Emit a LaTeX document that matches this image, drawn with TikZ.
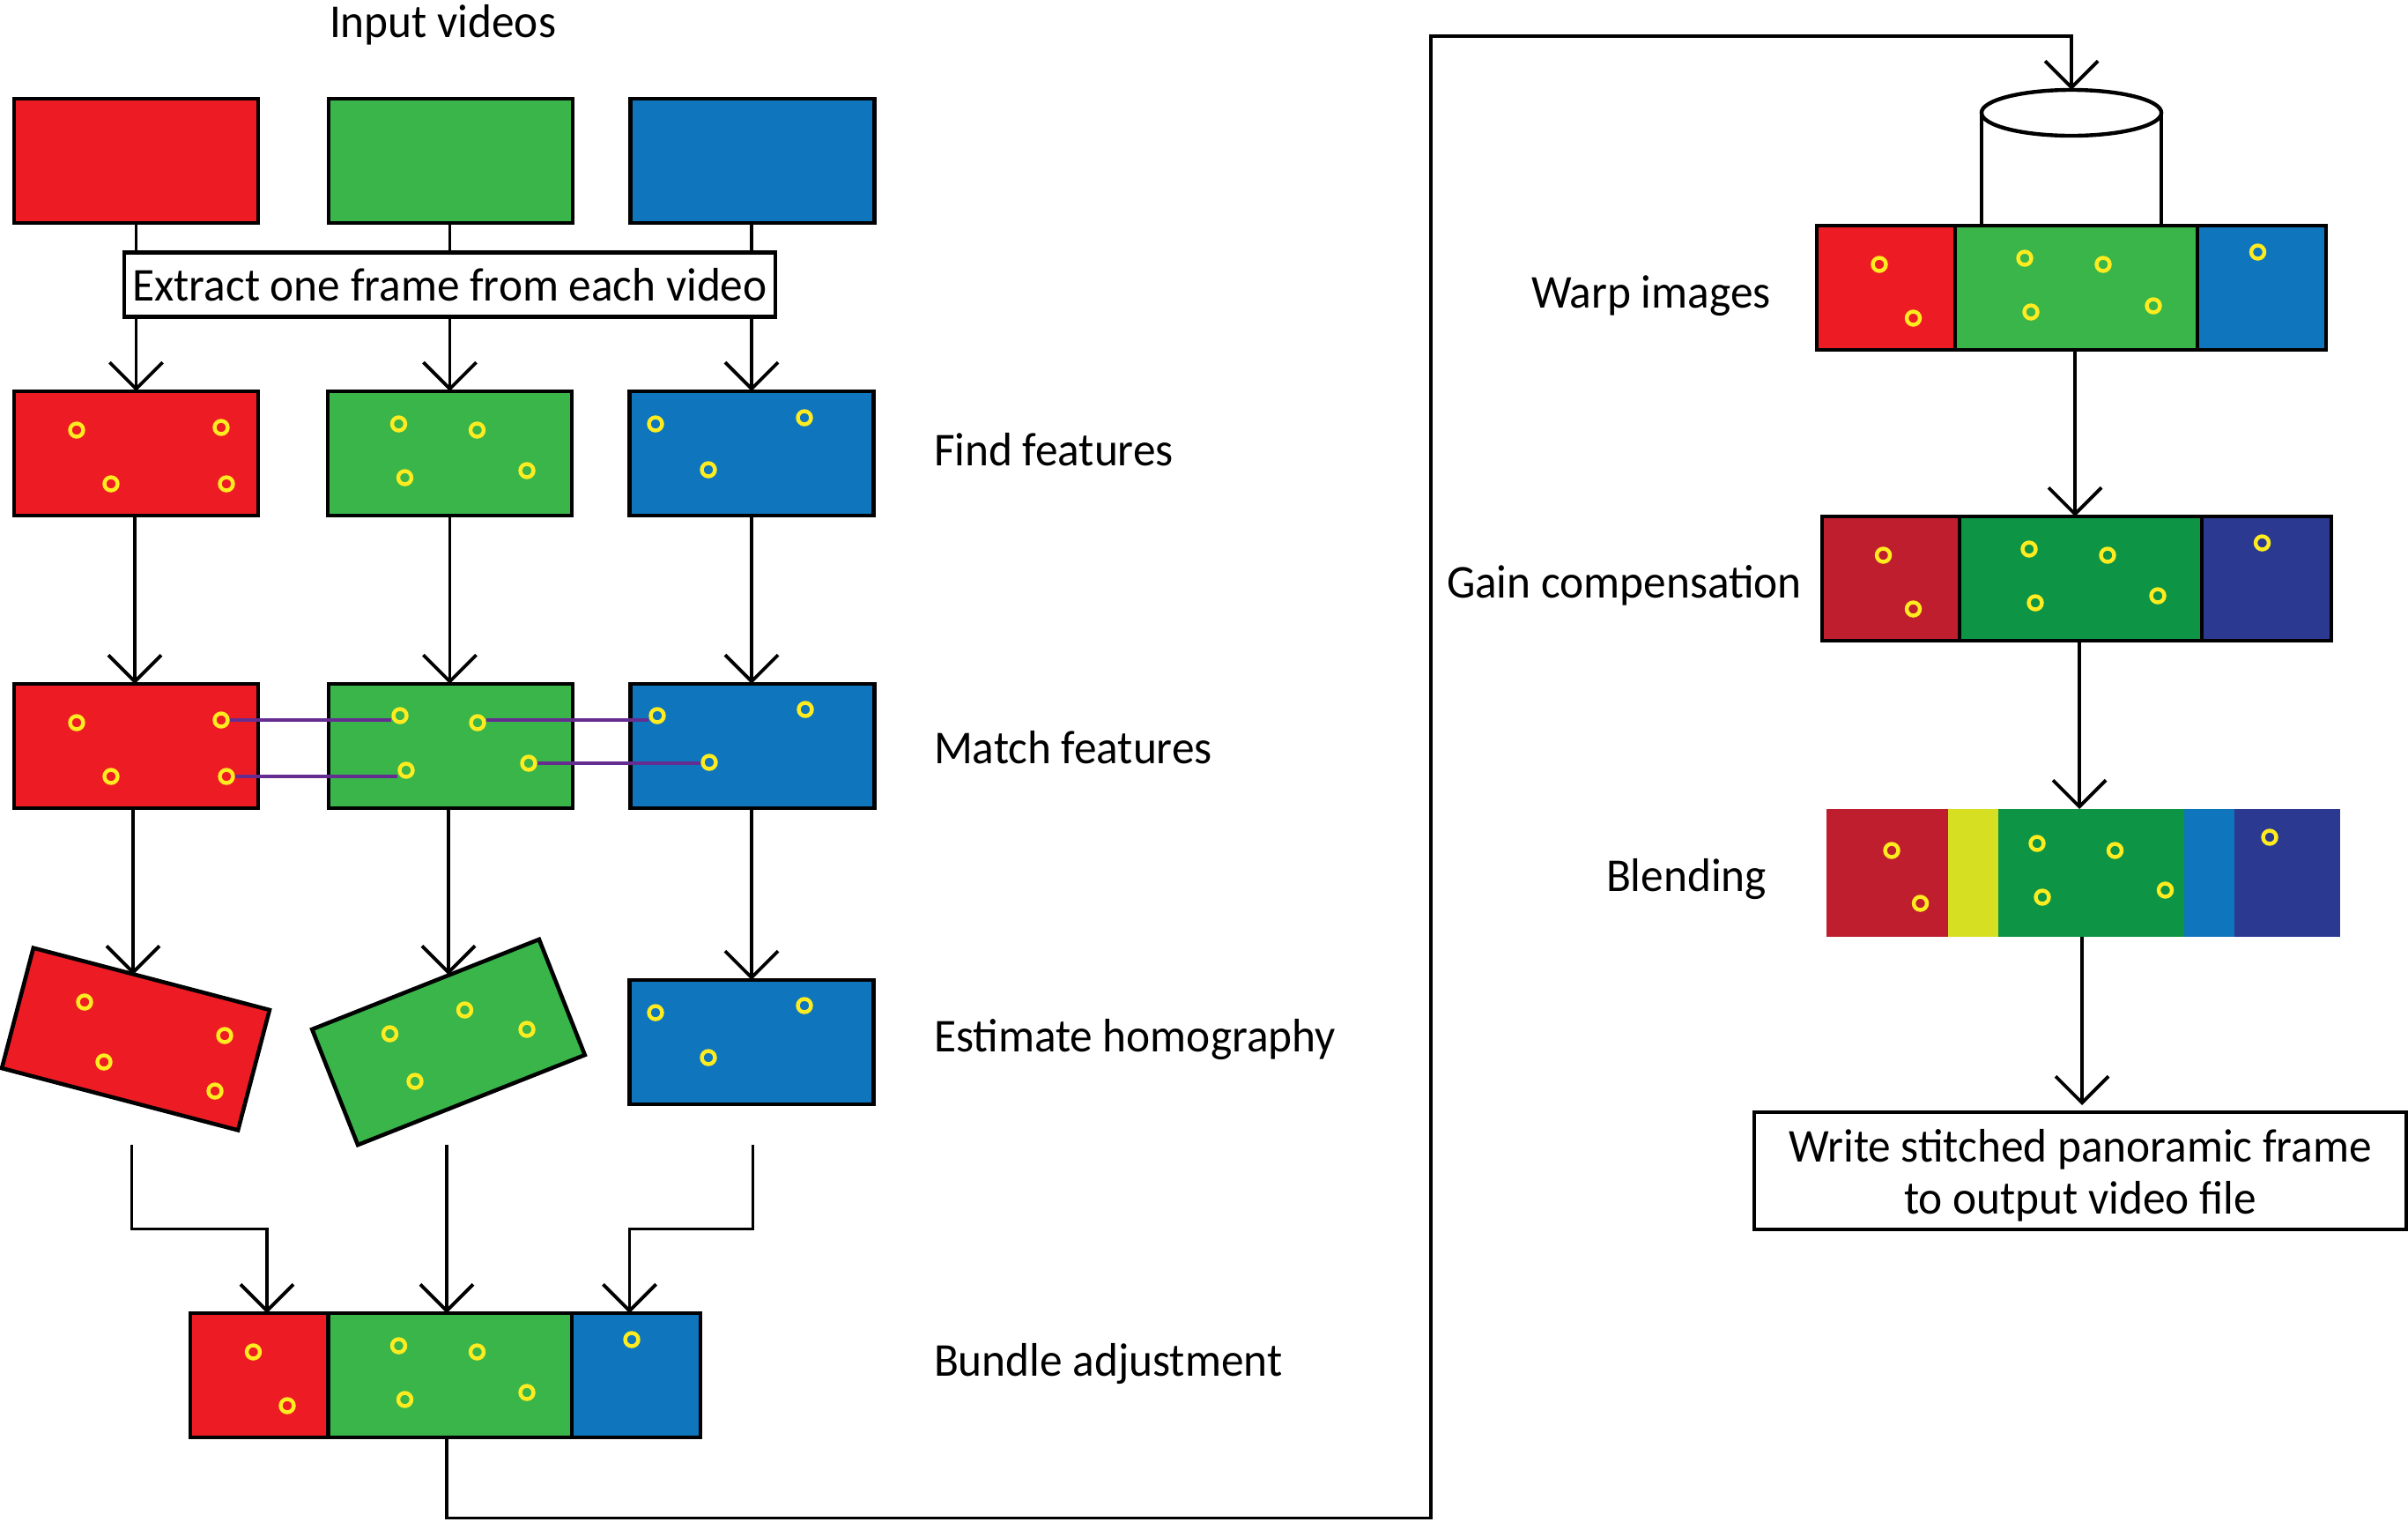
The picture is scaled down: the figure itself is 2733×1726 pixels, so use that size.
\documentclass[tikz,border=0pt]{standalone}
\usepackage{fontspec}
\setmainfont[FakeStretch=0.96]{Carlito}
\usetikzlibrary{shapes.geometric, positioning, calc, arrows.meta}
\definecolor{colorRed}{RGB}{237, 28, 36}
\definecolor{colorGreen}{RGB}{57, 181, 74}
\definecolor{colorBlue}{RGB}{15, 117, 188}
\definecolor{colorRedDark}{RGB}{190, 30, 45}
\definecolor{colorGreenDark}{RGB}{13, 148, 68}
\definecolor{colorBlueDark}{RGB}{43, 57, 144}
\definecolor{colorOverlap}{RGB}{215, 223, 35}
\definecolor{colorRing}{RGB}{255, 236, 32}
\definecolor{colorMatch}{RGB}{102, 45, 145}
\tikzstyle{frame} = [rectangle, draw=black, line width=1.3pt, minimum width=2.77cm, minimum height=1.41cm, inner sep=0pt, outer sep=0pt]
\tikzstyle{frameRed} = [frame, fill=colorRed]
\tikzstyle{frameGreen} = [frame, fill=colorGreen]
\tikzstyle{frameBlue} = [frame, fill=colorBlue]
\tikzstyle{frameRedDark} = [frame, fill=colorRedDark]
\tikzstyle{frameGreenDark} = [frame, fill=colorGreenDark]
\tikzstyle{frameBlueDark} = [frame, fill=colorBlueDark]
\tikzstyle{slab} = [rectangle, minimum height=1.45cm, inner sep=0pt, outer sep=0pt, anchor=north west]
\tikzstyle{ring} = [circle, draw=colorRing, line width=1.25pt, minimum size=0.15cm, inner sep=0pt]
\tikzstyle{stepText} = [inner sep=0pt, outer sep=0pt, anchor=base west, font=\fontsize{15.2}{17}\selectfont]
\tikzstyle{textBox} = [rectangle, draw=black, fill=white, line width=1.25pt, inner sep=0pt, outer sep=0pt, align=center, font=\fontsize{15.2}{17}\selectfont]
\tikzstyle{arrow} = [line width=1.1pt, -{Straight Barb[length=0.3cm, width=0.6cm]}]
\tikzstyle{matchLine} = [line width=1.1pt, color=colorMatch]
\begin{document}
\begin{tikzpicture}[x=0.01cm, y=-0.01cm]
	\useasboundingbox (0,0) rectangle (2733,1726);

	% input videos
	\node (vidRed)[frameRed] at (154.5,182.5){};
	\node (vidGreen)[frameGreen] at (511.5,182.5){};
	\node (vidBlue)[frameBlue] at (854,182.5){};

	% find features
	\node (featRed)[frameRed] at (154.5,514.5){};
	\node (featGreen)[frameGreen] at (510.5,514.5){};
	\node (featBlue)[frameBlue] at (853,514.5){};

	% match features
	\node (matchRed)[frameRed] at (154.5,846.5){};
	\node (matchGreen)[frameGreen] at (511.5,846.5){};
	\node (matchBlue)[frameBlue] at (854,846.5){};

	% estimate homography
	\node (homRed)[frameRed, rotate=-14.7] at (154,1179){};
	\node (homGreen)[frameGreen, rotate=21.6] at (509,1182.5){};
	\node (homBlue)[frameBlue] at (853,1182.5){};

	% bundle adjustment
	\node (adjRed)[frameRed, minimum width=1.565cm, anchor=north west] at (216,1490){};
	\node (adjBlue)[frameBlue, minimum width=1.46cm, anchor=north west] at (649,1490){};
	\node (adjGreen)[frameGreen, minimum width=2.765cm, anchor=north west] at (372.5,1490){};

	% warp images
	\node (warpRed)[frameRed, minimum width=1.57cm, anchor=north west] at (2062,256){};
	\node (warpBlue)[frameBlue, minimum width=1.46cm, anchor=north west] at (2494,256){};
	\node (warpGreen)[frameGreen, minimum width=2.75cm, anchor=north west] at (2219,256){};

	% gain compensation
	\node (gainRed)[frameRedDark, minimum width=1.56cm, anchor=north west] at (2068,586){};
	\node (gainBlue)[frameBlueDark, minimum width=1.47cm, anchor=north west] at (2499,586){};
	\node (gainGreen)[frameGreenDark, minimum width=2.75cm, anchor=north west] at (2224,586){};

	% blending
	\node (blendRed)[slab, fill=colorRedDark, minimum width=1.38cm] at (2073,918){};
	\node (blendOverlapL)[slab, fill=colorOverlap, minimum width=0.57cm] at (2211,918){};
	\node (blendGreen)[slab, fill=colorGreenDark, minimum width=2.11cm] at (2268,918){};
	\node (blendOverlapR)[slab, fill=colorBlue, minimum width=0.57cm] at (2479,918){};
	\node (blendBlue)[slab, fill=colorBlueDark, minimum width=1.2cm] at (2536,918){};

	% feature points
	\foreach \name/\cx/\cy in {fa/87/488, fb/251/485, fc/126/549, fd/257/549, fe/452.5/481, ff/541.5/488, fg/459.5/542, fh/598/534, fi/744/481, fj/913/474, fk/804/533}
		\node (\name)[ring] at (\cx,\cy){};
	\foreach \name/\cx/\cy in {ma/87/820, mb/251/817, mc/126/881, md/257/881, me/454/812, mf/542/820, mg/461/874, mh/600/866, mi/746/812, mj/914/805, mk/805/865}
		\node (\name)[ring] at (\cx,\cy){};
	\foreach \name/\cx/\cy in {ha/96/1137, hb/255/1175, hc/118/1205, hd/244/1238, he/442.5/1173, hf/527.5/1146, hg/598/1168, hh/471/1227, hi/744/1149, hj/913/1141, hk/804/1200}
		\node (\name)[ring] at (\cx,\cy){};
	\foreach \name/\cx/\cy in {aa/287.5/1534, ab/326/1595, ac/452.5/1527, ad/541.5/1534, ae/459.5/1588, af/598/1580, ag/717/1520}
		\node (\name)[ring] at (\cx,\cy){};
	\foreach \name/\cx/\cy in {wa/2133/300, wb/2171.5/361, wc/2298/293, wd/2387/300, we/2305/354, wf/2444/347, wg/2562.5/286}
		\node (\name)[ring] at (\cx,\cy){};
	\foreach \name/\cx/\cy in {ga/2137.5/630, gb/2171.5/691, gc/2303/623, gd/2392/630, ge/2310/684, gf/2449/676, gg/2567.5/616}
		\node (\name)[ring] at (\cx,\cy){};
	\foreach \name/\cx/\cy in {ba/2147/965, bb/2179.5/1025, bc/2312/957, bd/2400.5/965, be/2318/1018, bf/2457.5/1010, bg/2576/950}
		\node (\name)[ring] at (\cx,\cy){};

	% matched points
	\draw[matchLine] (mb.east) -- (mb.east -| me.west);
	\draw[matchLine] (md.east) -- (md.east -| mg.west);
	\draw[matchLine] ([yshift=0.03cm]mf.east) -- ([yshift=0.03cm]mf.east -| mi.west);
	\draw[matchLine] (mh.east) -- (mh.east -| mk.west);

	% cylinder
	\node (tank)[ellipse, draw=black, fill=white, line width=1.25pt, minimum width=2.04cm, minimum height=0.52cm, inner sep=0pt, outer sep=0pt] at (2351,128){};
	\draw[line width=1.1pt] (tank.west) -- (tank.west |- warpGreen.north);
	\draw[line width=1.1pt] (tank.east) -- (tank.east |- warpGreen.north);

	% turning points
	\coordinate (tipHomRed) at (151,1106);
	\coordinate (tipHomGreen) at (509,1106);
	\coordinate (fromRed) at (149.5,1299);
	\coordinate (fromGreen) at (507,1299);
	\coordinate (fromBlue) at (854.5,1299);
	\coordinate (kneeRed) at (303,1394.5);
	\coordinate (kneeBlue) at (714.5,1394.5);
	\coordinate (loopLow) at (1624,1722.5);
	\coordinate (loopHigh) at (1624,41);
	\coordinate (tipGain) at (2355,586);
	\coordinate (tipBlend) at (2360,918);
	\coordinate (tipWrite) at (2363,1254);

	% lines and arrows
	\draw[arrow] (vidRed.south -| featRed.north) -- (featRed.north);
	\draw[arrow] (vidGreen.south -| featGreen.north) -- (featGreen.north);
	\draw[arrow] (vidBlue.south -| featBlue.north) -- (featBlue.north);

	\draw[arrow] (featRed.south) ++(-1.5,0) -- ++(0,191);
	\draw[arrow] (featGreen.south) -- (matchGreen.north -| featGreen.south);
	\draw[arrow] (featBlue.south) -- (matchBlue.north -| featBlue.south);

	\draw[arrow] (tipHomRed |- matchRed.south) -- (tipHomRed);
	\draw[arrow] (tipHomGreen |- matchGreen.south) -- (tipHomGreen);
	\draw[arrow] (homBlue.north |- matchBlue.south) -- (homBlue.north);

	\draw[arrow] (fromRed) |- (kneeRed) -- (kneeRed |- adjRed.north);
	\draw[arrow] (fromGreen) -- (fromGreen |- adjGreen.north);
	\draw[arrow] (fromBlue) |- (kneeBlue) -- (kneeBlue |- adjBlue.north);

	\draw[arrow] (fromGreen |- adjGreen.south) |- (loopLow) -- (loopHigh) -| (tank.north);

	\draw[arrow] (tipGain |- warpGreen.south) -- (tipGain);
	\draw[arrow] (tipBlend |- gainGreen.south) -- (tipBlend);
	\draw[arrow] (tipWrite |- blendGreen.south) -- (tipWrite);

	% texts
	\node (extract)[textBox, minimum width=7.39cm, minimum height=0.73cm] at (510.5,323){Extract one frame from each video};
	\node (write)[textBox, minimum width=7.40cm, minimum height=1.33cm] at (2361,1328.5){\rule{0pt}{13.5pt}Write stitched panoramic frame \\ to output video file};

	\node (txtInput)[stepText] at (374,42){Input videos};
	\node (txtFind)[stepText] at (1060,528.5){Find features};
	\node (txtMatch)[stepText] at (1060,866.5){Match features};
	\node (txtHom)[stepText] at (1060,1193){Estimate homography};
	\node (txtAdj)[stepText] at (1060,1561){Bundle adjustment};
	\node (txtWarp)[stepText] at (1738,349.5){Warp images};
	\node (txtGain)[stepText] at (1642,678){Gain compensation};
	\node (txtBlend)[stepText] at (1823,1011){Blending};
\end{tikzpicture}
\end{document}
